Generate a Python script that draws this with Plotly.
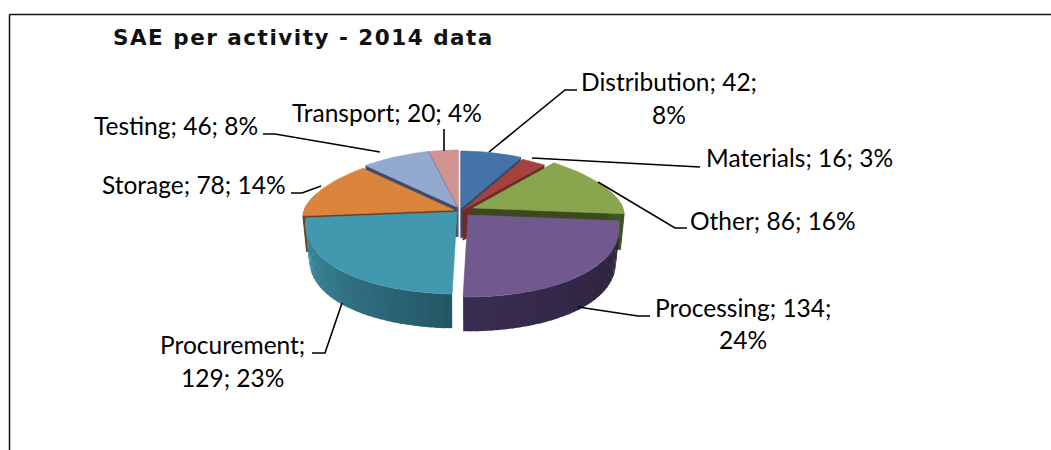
import math
import plotly.graph_objects as go

# ---- data ----
categories = ["Distribution", "Materials", "Other", "Processing", "Procurement", "Storage", "Testing", "Transport"]
values = [42, 16, 86, 134, 129, 78, 46, 20]
title_text = "SAE per activity - 2014 data"

# ---- style ----
top_colors = ["#4573A7", "#A5423F", "#89A54E", "#71588F", "#4198AF", "#DB843D", "#93A9CF", "#D19392"]
face_colors = ["#2E4E72", "#6F2A28", "#3A4A1E", None, None, "#6E3F15", "#3F4D6A", "#8B5F5E"]
wall_start = ["#2E4E72", "#6F2A28", "#3F5520", "#2A2138", "#235664", "#6E3F15", "#3F4D6A", "#8B5F5E"]
wall_end = ["#2E4E72", "#6F2A28", "#3F5520", "#3A2D52", "#3F90A6", "#6E3F15", "#3F4D6A", "#8B5F5E"]
apex_x = [461, 463, 473, 468, 457, 454, 457, 458]
apex_y = [208, 210, 208, 215, 212, 210, 207, 207]
paint_order = [7, 6, 0, 1, 5, 2, 4, 3]
RX, RY_BACK, RY_FRONT, DEPTH, PERSP = 150, 57, 82, 36, 0.15

wrap_after = {"Distribution": "Distribution; 42;", "Processing": "Processing; 134;", "Procurement": "Procurement;"}
label_pos = {
    "Distribution": (669, 81, 114), "Materials": (799, 157), "Other": (773, 220),
    "Processing": (743, 307, 339), "Procurement": (232, 344, 377),
    "Storage": (194, 184), "Testing": (176, 125), "Transport": (387, 112),
}
leaders = [
    [(489, 152), (565, 90), (577, 90)], [(532, 158), (700, 167)],
    [(598, 182), (675, 228), (687, 228)], [(578, 307), (638, 316), (650, 316)],
    [(342, 303), (325, 353), (312, 353)], [(321, 186), (302, 193), (291, 193)],
    [(380, 152), (275, 134), (263, 134)], [(444, 151), (444, 129)],
]


def project(i, deg, lower=False):
    t = math.radians(deg)
    s, c = math.sin(t), math.cos(t)
    x = RX * s * (1 - PERSP * c)
    y = -RY_BACK * c if c > 0 else -RY_FRONT * c
    if lower:
        return apex_x[i] + 0.975 * x, apex_y[i] + 0.98 * y + DEPTH
    return apex_x[i] + x, apex_y[i] + y


def mix(a, b, f):
    pa = [int(a[k:k + 2], 16) for k in (1, 3, 5)]
    pb = [int(b[k:k + 2], 16) for k in (1, 3, 5)]
    return "rgb(%d,%d,%d)" % tuple(round(p + (q - p) * f) for p, q in zip(pa, pb))


def poly(fig, pts, color, width=0.6):
    fig.add_trace(go.Scatter(
        x=[p[0] for p in pts] + [pts[0][0]], y=[p[1] for p in pts] + [pts[0][1]],
        mode="lines", fill="toself", fillcolor=color,
        line=dict(color=color, width=width), hoverinfo="skip", showlegend=False,
    ))


total = sum(values)
starts, run = [], 0
for v in values:
    starts.append(run / total * 360)
    run += v

fig = go.Figure()
for i in paint_order:
    a0 = starts[i]
    a1 = a0 + values[i] / total * 360
    ap = (apex_x[i], apex_y[i])
    ap_low = (apex_x[i], apex_y[i] + DEPTH - 6)
    # radial cut faces
    if face_colors[i]:
        for a in (a0, a1):
            poly(fig, [ap, project(i, a), project(i, a, True), ap_low], face_colors[i])
    # outer wall, as shaded strips that overlap slightly so no seams show
    n = max(1, int((a1 - a0) / 2.5))
    for k in range(n):
        u0 = a0 + (a1 - a0) * k / n
        u1 = a0 + (a1 - a0) * (k + 1) / n
        if math.cos(math.radians((u0 + u1) / 2)) < 0.3:
            poly(fig, [project(i, u0), project(i, min(u1 + 0.6, a1)),
                       project(i, min(u1 + 0.6, a1), True), project(i, u0, True)],
                 mix(wall_start[i], wall_end[i], (k + 0.5) / n), width=0)
    # top surface
    m = max(4, int((a1 - a0) / 2))
    poly(fig, [ap] + [project(i, a0 + (a1 - a0) * k / m) for k in range(m + 1)], top_colors[i])

shapes = [
    dict(type="line", x0=9.5, x1=1051, y0=14.5, y1=14.5, line=dict(color="#111", width=1.5)),
    dict(type="line", x0=9.5, x1=9.5, y0=14.5, y1=450, line=dict(color="#111", width=1.5)),
]
for pts in leaders:
    path = "M " + " L ".join(f"{x},{y}" for x, y in pts)
    shapes.append(dict(type="path", path=path, line=dict(color="#000", width=1.6)))

annotations = [dict(x=303, y=37, xanchor="center", yanchor="middle", text=f"<b>{title_text}</b>", showarrow=False,
                    font=dict(family="DejaVu Sans", size=21.5, color="#111"))]
for c, v in zip(categories, values):
    text = f"{c}; {v}; {round(v / total * 100)}%"
    pos = label_pos[c]
    if c in wrap_after:
        first = wrap_after[c]
        lines = [(first, pos[1]), (text[len(first):].strip(), pos[2])]
    else:
        lines = [(text, pos[1])]
    for line, y in lines:
        annotations.append(dict(x=pos[0], y=y, xanchor="center", yanchor="middle", text=line, showarrow=False,
                                font=dict(family="Lato", size=24.5, color="#000")))

fig.update_layout(
    width=1051, height=450, margin=dict(l=0, r=0, t=0, b=0),
    paper_bgcolor="white", plot_bgcolor="white", showlegend=False,
    xaxis=dict(range=[0, 1051], visible=False, fixedrange=True),
    yaxis=dict(range=[450, 0], visible=False, fixedrange=True),
    shapes=shapes, annotations=annotations,
)
fig.write_html("out.html", config={"displayModeBar": False},
               post_script="document.body.style.margin='0';document.body.style.overflow='hidden';"
                           "var t=document.querySelector('.annotation-text');if(t){t.style.letterSpacing='1.5px';}")
